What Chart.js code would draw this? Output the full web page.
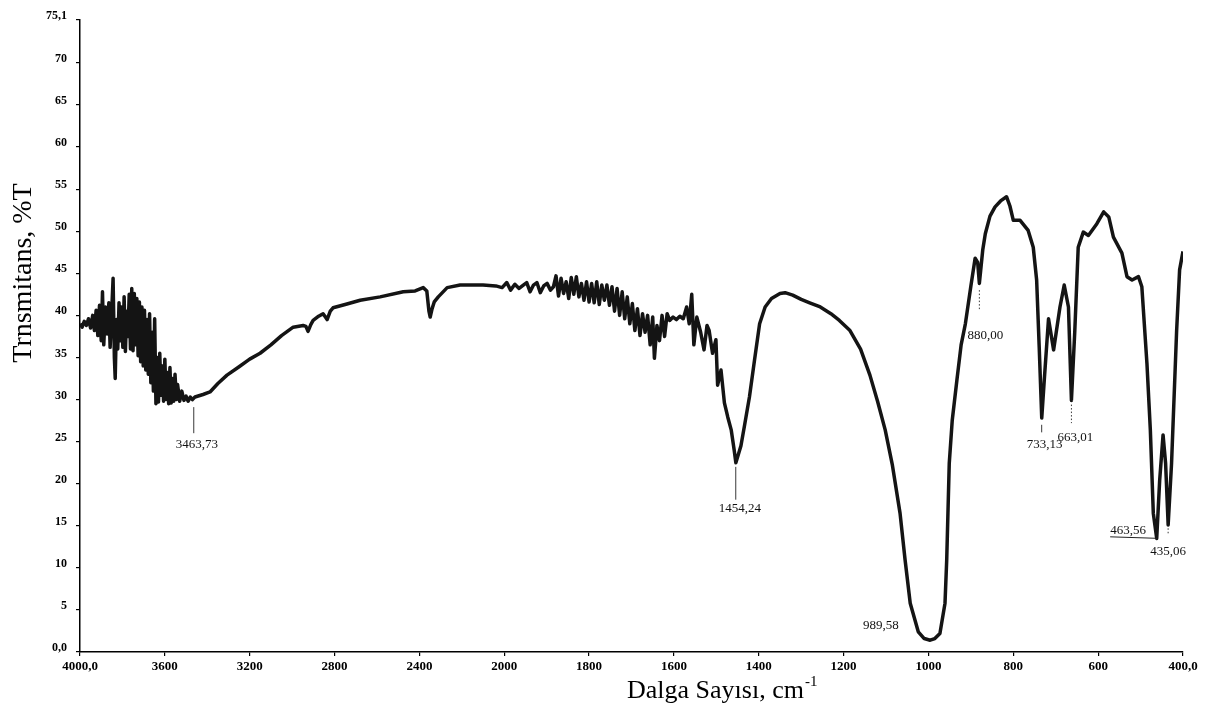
<!DOCTYPE html>
<html>
<head>
<meta charset="utf-8">
<script src="https://cdn.jsdelivr.net/npm/chart.js@4.4.1/dist/chart.umd.min.js"></script>
<style>
  html, body { margin: 0; padding: 0; background: #fff; }
  #wrap { width: 1211px; height: 718px; position: relative; }
</style>
</head>
<body>
<div id="wrap"><canvas id="c" width="1211" height="718"></canvas></div>
<script>
// ---- Data ----
const waveNumbers = [
  4000,3990,3980,3970,3960,3950,3940,3932,3924,3916,3908,3900,3894,3888,3880,3872,3864,3858,3850,3844,
  3838,3834,3828,3822,3816,3810,3804,3798,3792,3786,3780,3774,3768,3762,3756,3750,3744,3738,3732,3726,
  3720,3714,3708,3702,3696,3690,3684,3678,3672,3666,3660,3654,3648,3642,3636,3630,3624,3618,3612,3606,
  3600,3594,3588,3582,3576,3570,3564,3558,3552,3546,3540,3530,3520,3510,3500,3490,3480,3470,3458,3420,
  3387,3350,3307,3250,3200,3151,3100,3050,2995,2948,2935,2925,2912,2901,2875,2854,2843,2835,2820,2807,
  2750,2679,2585,2476,2420,2382,2365,2355,2349,2340,2330,2311,2269,2208,2100,2040,2010,1994,1985,1975,
  1965,1955,1947,1939,1931,1923,1915,1907,1899,1891,1884,1878,1872,1866,1860,1854,1848,1842,1836,1830,
  1824,1818,1812,1806,1800,1794,1788,1782,1776,1770,1764,1758,1752,1746,1740,1734,1728,1722,1716,1710,
  1704,1698,1692,1686,1680,1674,1668,1662,1656,1650,1646,1640,1634,1628,1622,1616,1610,1602,1594,1586,
  1578,1570,1564,1558,1553,1546,1537,1529,1522,1517,1509,1501,1497,1489,1481,1473,1465,1458,1454,1448,
  1442,1434,1422,1410,1398,1385,1370,1350,1338,1320,1300,1280,1255,1230,1210,1185,1160,1138,1120,1102,
  1085,1067,1055,1043,1024,1010,996,985,973,961,957,951,944,933,923,913,900,890,884,880,
  876,872,866,855,843,830,816,808,800,784,765,753,745,739,733,727,717,705,690,680,
  670,663,655,647,635,623,603,587,575,564,544,532,520,505,497,485,477,470,462,455,
  447,441,435,427,415,408,400
];
const transmittance = [
  39.0,38.6,39.3,38.8,39.6,38.5,40.0,38.2,40.6,37.6,41.2,37.0,42.8,36.5,41.0,37.8,41.5,36.2,40.8,44.4,
  35.0,32.5,39.5,36.0,41.5,37.0,41.0,36.2,42.2,35.7,40.5,37.5,42.5,36.0,43.2,35.8,42.6,36.5,42.0,35.2,
  41.6,34.5,41.0,34.0,40.6,33.5,39.5,33.0,40.2,32.0,38.0,31.0,39.6,29.5,35.0,29.7,35.5,30.5,34.0,29.8,
  34.8,30.0,33.2,29.5,33.8,29.6,32.5,29.8,33.0,30.0,31.8,29.8,31.0,29.9,30.4,29.8,30.3,30.0,30.3,30.6,
  30.9,31.9,32.9,33.9,34.8,35.5,36.5,37.6,38.6,38.8,38.7,38.1,38.9,39.4,39.9,40.2,39.8,39.5,40.5,40.9,
  41.3,41.8,42.2,42.8,42.9,43.3,42.9,40.5,39.8,40.8,41.6,42.2,43.3,43.6,43.6,43.5,43.3,43.9,43.0,43.7,
  43.2,43.6,43.9,42.8,43.6,43.9,42.7,43.5,43.8,43.0,43.4,44.7,42.3,44.4,42.6,44.0,42.0,44.5,42.5,44.6,
  42.2,43.8,41.8,44.0,41.6,43.8,41.5,44.0,41.3,43.6,41.8,43.6,41.2,43.4,40.5,43.2,40.0,42.8,39.6,42.2,
  39.0,41.4,38.2,40.8,37.6,40.2,38.0,40.0,36.5,39.8,34.9,38.8,37.0,40.0,37.5,40.2,39.4,39.8,39.5,39.9,
  39.6,41.0,39.0,42.5,36.5,39.8,38.0,35.9,38.8,38.2,35.5,37.1,31.7,33.5,29.6,27.9,26.4,24.0,22.5,23.5,
  24.5,26.8,30.3,34.7,39.0,41.0,42.0,42.6,42.7,42.4,41.9,41.5,41.0,40.2,39.4,38.2,36.0,32.9,29.8,26.4,
  22.2,16.5,10.9,5.8,2.4,1.6,1.4,1.6,2.2,5.8,10.9,22.4,27.5,32.3,36.5,39.0,43.5,46.8,46.3,43.8,
  45.8,47.8,49.7,51.8,52.9,53.6,54.1,53.0,51.3,51.3,50.1,48.1,44.2,36.3,27.8,32.3,39.6,35.9,41.0,43.6,
  41.0,29.9,38.2,48.1,49.9,49.5,50.9,52.3,51.7,49.3,47.4,44.6,44.2,44.6,43.4,34.3,26.4,16.5,13.5,20.4,
  25.8,22.4,15.1,22.4,38.2,45.4,47.6
];

const xTickValues = [4000,3600,3200,2800,2400,2000,1800,1600,1400,1200,1000,800,600,400];
const xTickLabels = ["4000,0","3600","3200","2800","2400","2000","1800","1600","1400","1200","1000","800","600","400,0"];
const yTickValues = [0,5,10,15,20,25,30,35,40,45,50,55,60,65,70,75.1];
const yTickLabels = ["0,0","5","10","15","20","25","30","35","40","45","50","55","60","65","70","75,1"];

// peak annotations
const peakWaves  = [3463.73, 1454.24, 989.58, 880.00, 733.13, 663.01, 463.56, 435.06];
const peakLabels = ["3463,73","1454,24","989,58","880,00","733,13","663,01","463,56","435,06"];

// ---- Axis transform: 4000-2000 compressed 2:1 versus 2000-400 ----
function toAxis(w) { return w >= 2000 ? (4000 - w) / 2 : 1000 + (2000 - w); }

const points = waveNumbers.map((w, i) => ({ x: toAxis(w), y: transmittance[i] }));

// annotation layout (style only): leader line in y-data units, text offset
const annStyle = [
  { line: [29.1, 26.0], dash: false, dx: 3,   ty: 24.6 },
  { line: [22.0, 18.1], dash: false, dx: 4,   ty: 17.0 },
  { line: null,          dash: false, dx: -52, ty: 3.1 },
  { line: [43.0, 40.6], dash: true,  dx: 6,   ty: 37.6 },
  { line: [27.0, 26.1], dash: false, dx: 3,   ty: 24.6 },
  { line: [29.4, 27.2], dash: true,  dx: 4,   ty: 25.5 },
  { line: null, under: true,          dx: -28, ty: 14.4 },
  { line: [14.7, 14.1], dash: true,  dx: 0,   ty: 11.9 }
];

const annotate = {
  id: 'annotate',
  afterDatasetsDraw(chart) {
    const ctx = chart.ctx, xs = chart.scales.x, ys = chart.scales.y;
    ctx.save();
    ctx.fillStyle = '#111';
    ctx.strokeStyle = '#222';
    ctx.font = '13px "Liberation Serif", "Times New Roman", serif';
    ctx.textAlign = 'center';
    ctx.textBaseline = 'middle';
    peakWaves.forEach((w, i) => {
      const st = annStyle[i];
      const px = xs.getPixelForValue(toAxis(w));
      if (st.line) {
        ctx.beginPath();
        ctx.lineWidth = 0.9;
        ctx.setLineDash(st.dash ? [1.5, 2] : []);
        ctx.moveTo(px, ys.getPixelForValue(st.line[0]));
        ctx.lineTo(px, ys.getPixelForValue(st.line[1]));
        ctx.stroke();
      }
      ctx.setLineDash([]);
      const tx = px + st.dx, ty = ys.getPixelForValue(st.ty);
      ctx.fillText(peakLabels[i], tx, ty);
      if (st.under) {
        const tw = ctx.measureText(peakLabels[i]).width;
        ctx.beginPath();
        ctx.lineWidth = 1;
        ctx.moveTo(tx - tw / 2, ty + 6);
        ctx.lineTo(px + 1, ty + 7.5);
        ctx.stroke();
      }
    });
    ctx.restore();
  },
  afterDraw(chart) {
    const ctx = chart.ctx;
    ctx.save();
    ctx.fillStyle = '#000';
    // y title
    ctx.translate(31, 273);
    ctx.rotate(-Math.PI / 2);
    ctx.font = '28px "Liberation Serif", "Times New Roman", serif';
    ctx.textAlign = 'center';
    ctx.textBaseline = 'alphabetic';
    ctx.fillText('Trnsmitans, %T', 0, 0);
    ctx.restore();
    // x title with superscript
    ctx.save();
    ctx.fillStyle = '#000';
    ctx.textAlign = 'left';
    ctx.textBaseline = 'alphabetic';
    ctx.font = '26px "Liberation Serif", "Times New Roman", serif';
    const main = 'Dalga Sayısı, cm';
    const x0 = 627;
    ctx.fillText(main, x0, 698);
    const mw = ctx.measureText(main).width;
    ctx.font = '15px "Liberation Serif", "Times New Roman", serif';
    ctx.fillText('-1', x0 + mw + 1, 686);
    ctx.restore();
  }
};

new Chart(document.getElementById('c'), {
  type: 'line',
  data: {
    datasets: [{
      data: points,
      borderColor: '#141414',
      borderWidth: 3.5,
      borderJoinStyle: 'round',
      pointRadius: 0,
      tension: 0,
      fill: false
    }]
  },
  options: {
    responsive: false,
    animation: false,
    layout: { padding: { left: 0, right: 28, top: 20, bottom: 0 } },
    plugins: { legend: { display: false }, tooltip: { enabled: false } },
    scales: {
      x: {
        type: 'linear',
        min: 0,
        max: toAxis(400),
        afterFit(scale) { scale.height = 66; },
        afterBuildTicks(scale) { scale.ticks = xTickValues.map(w => ({ value: toAxis(w) })); },
        ticks: {
          autoSkip: false, maxRotation: 0, minRotation: 0, padding: 3,
          color: '#000',
          font: { family: '"Liberation Serif", "Times New Roman", serif', size: 13, weight: 'bold' },
          callback: (v, i) => xTickLabels[i]
        },
        grid: { display: true, drawOnChartArea: false, drawTicks: true, tickLength: 4, color: '#000', lineWidth: 1.2 },
        border: { display: true, color: '#000', width: 1.5 }
      },
      y: {
        type: 'linear',
        min: 0,
        max: 75.1,
        afterFit(scale) { scale.width = 80; },
        afterBuildTicks(scale) { scale.ticks = yTickValues.map(v => ({ value: v })); },
        ticks: {
          autoSkip: false, padding: 9, labelOffset: -4,
          color: '#000',
          font: { family: '"Liberation Serif", "Times New Roman", serif', size: 12, weight: 'bold' },
          callback: (v, i) => yTickLabels[i]
        },
        grid: { display: true, drawOnChartArea: false, drawTicks: true, tickLength: 4, color: '#000', lineWidth: 1.2 },
        border: { display: true, color: '#000', width: 1.5 }
      }
    }
  },
  plugins: [annotate]
});
</script>
</body>
</html>
